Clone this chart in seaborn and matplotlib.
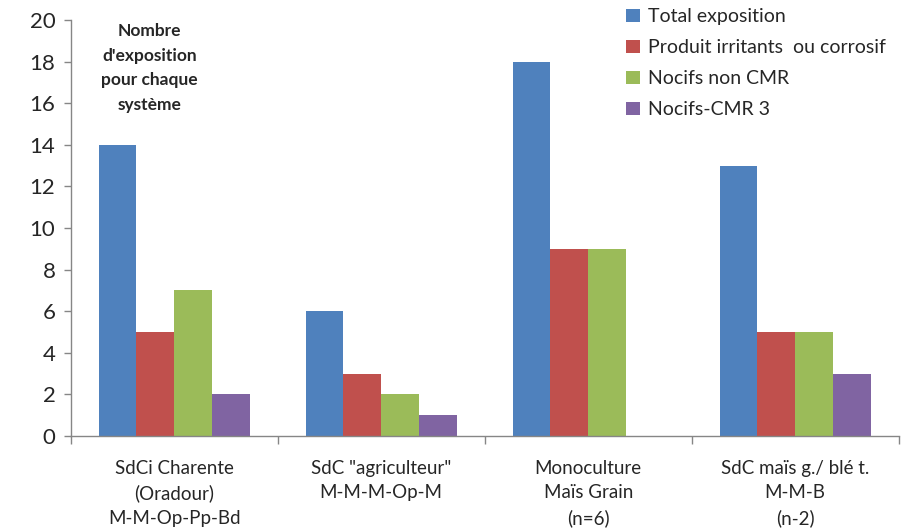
import matplotlib
matplotlib.use("Agg")
import matplotlib.pyplot as plt
import seaborn as sns
import pandas as pd
from matplotlib.ticker import FixedLocator

categories = [
    "SdCi Charente\n(Oradour)\nM-M-Op-Pp-Bd",
    "SdC \"agriculteur\"\nM-M-M-Op-M",
    "Monoculture\nMaïs Grain\n(n=6)",
    "SdC maïs g./ blé t.\nM-M-B\n(n-2)",
]
series = ["Total exposition", "Produit irritants  ou corrosif",
          "Nocifs non CMR", "Nocifs-CMR 3"]
total_exposition = [14, 6, 18, 13]
irritants_corrosifs = [5, 3, 9, 5]
nocifs_non_cmr = [7, 2, 9, 5]
nocifs_cmr3 = [2, 1, 0, 3]
colors = ["#4F81BD", "#C0504D", "#9BBB59", "#8064A2"]

rows = []
for name, vals in zip(series, [total_exposition, irritants_corrosifs,
                               nocifs_non_cmr, nocifs_cmr3]):
    for cat, v in zip(categories, vals):
        rows.append({"cat": cat, "serie": name, "val": v})
df = pd.DataFrame(rows)

sns.set_theme(style="white")
plt.rcParams["font.family"] = ["Lato", "DejaVu Sans"]

fig = plt.figure(figsize=(9.06, 5.29), dpi=100)
ax = fig.add_axes([0.078, 0.176, 0.914, 0.786])

sns.barplot(data=df, x="cat", y="val", hue="serie", palette=colors,
            width=0.73, saturation=1, ax=ax, legend=True, linewidth=0)

ax.set_ylim(0, 20)
ax.set_xlim(-0.5, 3.5)
ax.set_yticks(range(0, 21, 2))
ax.tick_params(axis="y", labelsize=16, length=5, width=1,
               color="#868686", direction="out", left=True, pad=6)
ax.set_xticks(range(len(categories)))
ax.set_xticklabels(categories, fontsize=13.5, linespacing=1.55)
ax.tick_params(axis="x", which="major", length=0, pad=17)
ax.xaxis.set_minor_locator(FixedLocator([-0.5, 0.5, 1.5, 2.5, 3.5]))
ax.tick_params(axis="x", which="minor", length=6, width=1,
               color="#868686", direction="out", bottom=True)
ax.set_xlabel("")
ax.set_ylabel("")
for s in ["top", "right"]:
    ax.spines[s].set_visible(False)
for s in ["left", "bottom"]:
    ax.spines[s].set_color("#868686")
    ax.spines[s].set_linewidth(1)

ax.text(0.095, 0.992, "Nombre\nd'exposition\npour chaque\nsystème",
        transform=ax.transAxes, ha="center", va="top", fontsize=12.5,
        fontweight="bold", linespacing=1.65)

leg = ax.legend(loc="upper left", bbox_to_anchor=(0.65, 1.07), frameon=False,
                fontsize=14, handlelength=0.7, handleheight=0.7,
                handletextpad=0.4, labelspacing=0.72)

fig.savefig("out.png", dpi=100)
